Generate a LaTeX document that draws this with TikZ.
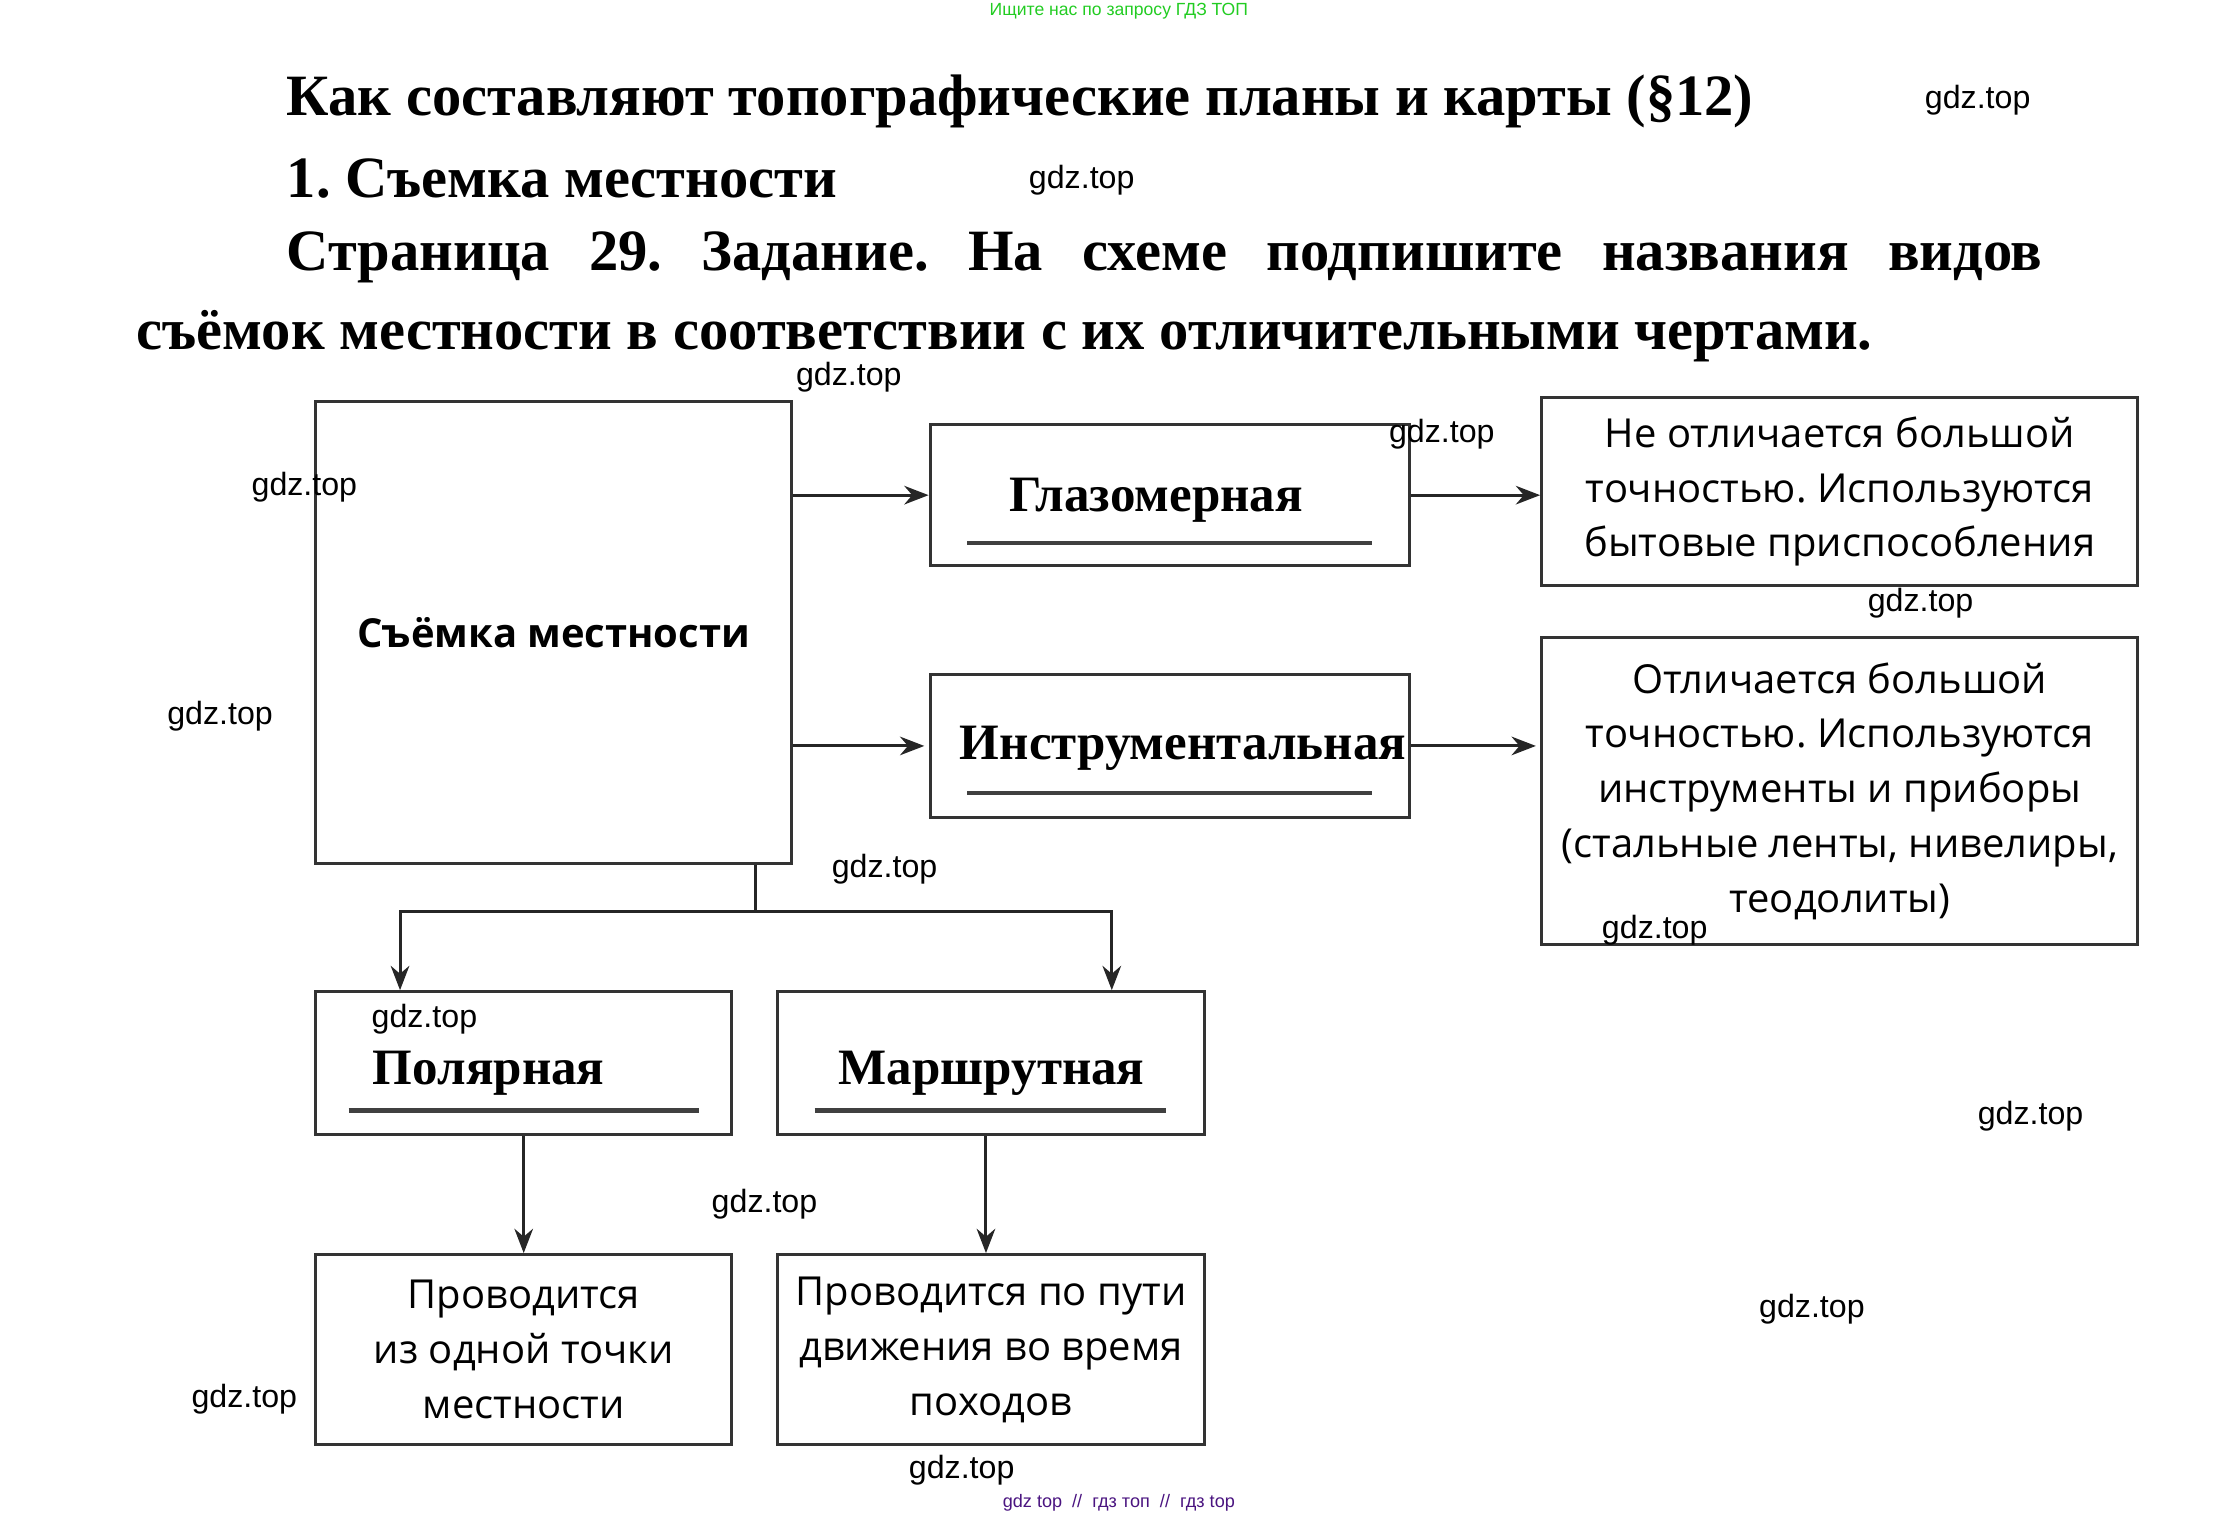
\documentclass[tikz,border=0pt]{standalone}
\usepackage{fontspec}
\setmainfont{Liberation Serif}
\newfontfamily\descfont{Open Sans}
\newfontfamily\wmfont{Liberation Sans}
\usetikzlibrary{arrows.meta}
\definecolor{wmgreen}{HTML}{22CC22}
\definecolor{wmpurple}{HTML}{4A1480}
\frenchspacing
\tikzset{
	box/.style={draw=black!80, line width=0.6pt, inner sep=0pt, align=center},
	descbox/.style={box, font=\descfont\fontsize{7.95}{10.9}\selectfont},
	kind/.style={font=\bfseries\fontsize{10.15}{12}\selectfont, inner sep=0pt},
	uline/.style={draw=black!75, line width=0.9pt},
	arr/.style={draw=black!85, line width=0.6pt, -{Stealth[length=1.7mm, width=1.3mm]}},
	wm/.style={font=\wmfont\fontsize{6.4}{7}\selectfont, inner sep=0pt},
	head/.style={font=\bfseries\fontsize{11.65}{14}\selectfont, inner sep=0pt, anchor=west}
}

\begin{document}
\begin{tikzpicture}[x=0.01cm, y=-0.01cm]
			%%%%% FRAME %%%%%
			\useasboundingbox (0, 0) rectangle (1555, 1062);
			
			\node[font=\wmfont\fontsize{3.5}{4}\selectfont, text=wmgreen, inner sep=0pt] (topwm) at (783, 8) {Ищите нас по запросу ГДЗ ТОП};
			
			%%%%% HEADING %%%%%
			\node[head] (title) at (200, 71) {Как составляют топографические планы и карты (§12)};
			\node[head] (sect) at (200, 125) {1. Съемка местности};
			\node[head] (task1) at (200, 180) {\makebox[12.28cm][s]{Страница 29. Задание. На схеме подпишите названия видов}};
			\node[head] (task2) at (95, 235) {съёмок местности в соответствии с их отличительными чертами.};
			
			%%%%% BOXES %%%%%
			\node[box, minimum width=3.33cm, minimum height=3.23cm, font=\descfont\bfseries\fontsize{7.95}{10}\selectfont] (main) at (387.5, 442.5) {Съёмка местности};
			
			\node[box, minimum width=3.35cm, minimum height=0.99cm] (gl) at (818.5, 346.5) {};
			\node[box, minimum width=3.35cm, minimum height=1.00cm] (ins) at (818.5, 522) {};
			\node[box, minimum width=2.91cm, minimum height=1.00cm] (pol) at (366.5, 744) {};
			\node[box, minimum width=2.99cm, minimum height=1.00cm] (mar) at (693.5, 744) {};
			
			\node[kind] (glt) at (809, 350) {Глазомерная};
			\node[kind] (inst) at (828, 524) {Инструментальная};
			\node[kind] (polt) at (342, 751) {Полярная};
			\node[kind] (mart) at (694, 751) {Маршрутная};
			
			\draw[uline] (677, 380) -- (960, 380);
			\draw[uline] (677, 555) -- (960, 555);
			\draw[uline] (244, 777) -- (489, 777);
			\draw[uline] (570, 777) -- (816, 777);
			
			\node[descbox, minimum width=4.17cm, minimum height=1.32cm] (r1) at (1287.5, 344) {Не отличается большой\\точностью. Используются\\бытовые приспособления};
			\node[descbox, minimum width=4.17cm, minimum height=2.15cm] (r2) at (1287.5, 553.5) {Отличается большой\\точностью. Используются\\инструменты и приборы\\(стальные ленты, нивелиры,\\теодолиты)};
			\node[descbox, minimum width=2.91cm, minimum height=1.33cm] (b1) at (366.5, 944.5) {Проводится\\из одной точки\\местности};
			\node[descbox, minimum width=2.99cm, minimum height=1.33cm] (b2) at (693.5, 944.5) {Проводится по пути\\движения во время\\походов};
			
			%%%%% ARROWS %%%%%
			\draw[arr] (main.east |- gl.west) -- (gl.west);
			\draw[arr] (main.east |- ins.west) -- ([xshift=-0.03cm]ins.west);
			\draw[arr] (gl.east) -- (gl.east -| r1.west);
			\draw[arr] (ins.east) -- ([xshift=-0.03cm]ins.east -| r2.west);
			
			\coordinate (fork) at (529, 638);
			\draw[draw=black!85, line width=0.6pt] (main.south -| fork) -- (fork);
			\draw[arr] (fork) -| ([xshift=-8.65mm]pol.north);
			\draw[arr] (fork) -| ([xshift=8.45mm]mar.north);
			\draw[arr] (pol.south) -- (b1.north);
			\draw[arr] ([xshift=-0.35mm]mar.south) -- ([xshift=-0.35mm]b2.north);
			
			%%%%% WATERMARKS %%%%%
			\foreach \wx/\wy in {1384/70, 757/126, 594/264, 1009/304, 213/341, 1344/422, 154/501, 619/608, 1158/651, 297/713, 535/843, 1421/781, 1268/916, 171/979, 673/1029}
				\node[wm] at (\wx, \wy) {gdz.top};
			
			\node[font=\wmfont\fontsize{3.6}{4}\selectfont, text=wmpurple, inner sep=0pt] (botwm) at (783, 1052) {gdz top~~//~~гдз топ~~//~~гдз top};
\end{tikzpicture}
\end{document}
